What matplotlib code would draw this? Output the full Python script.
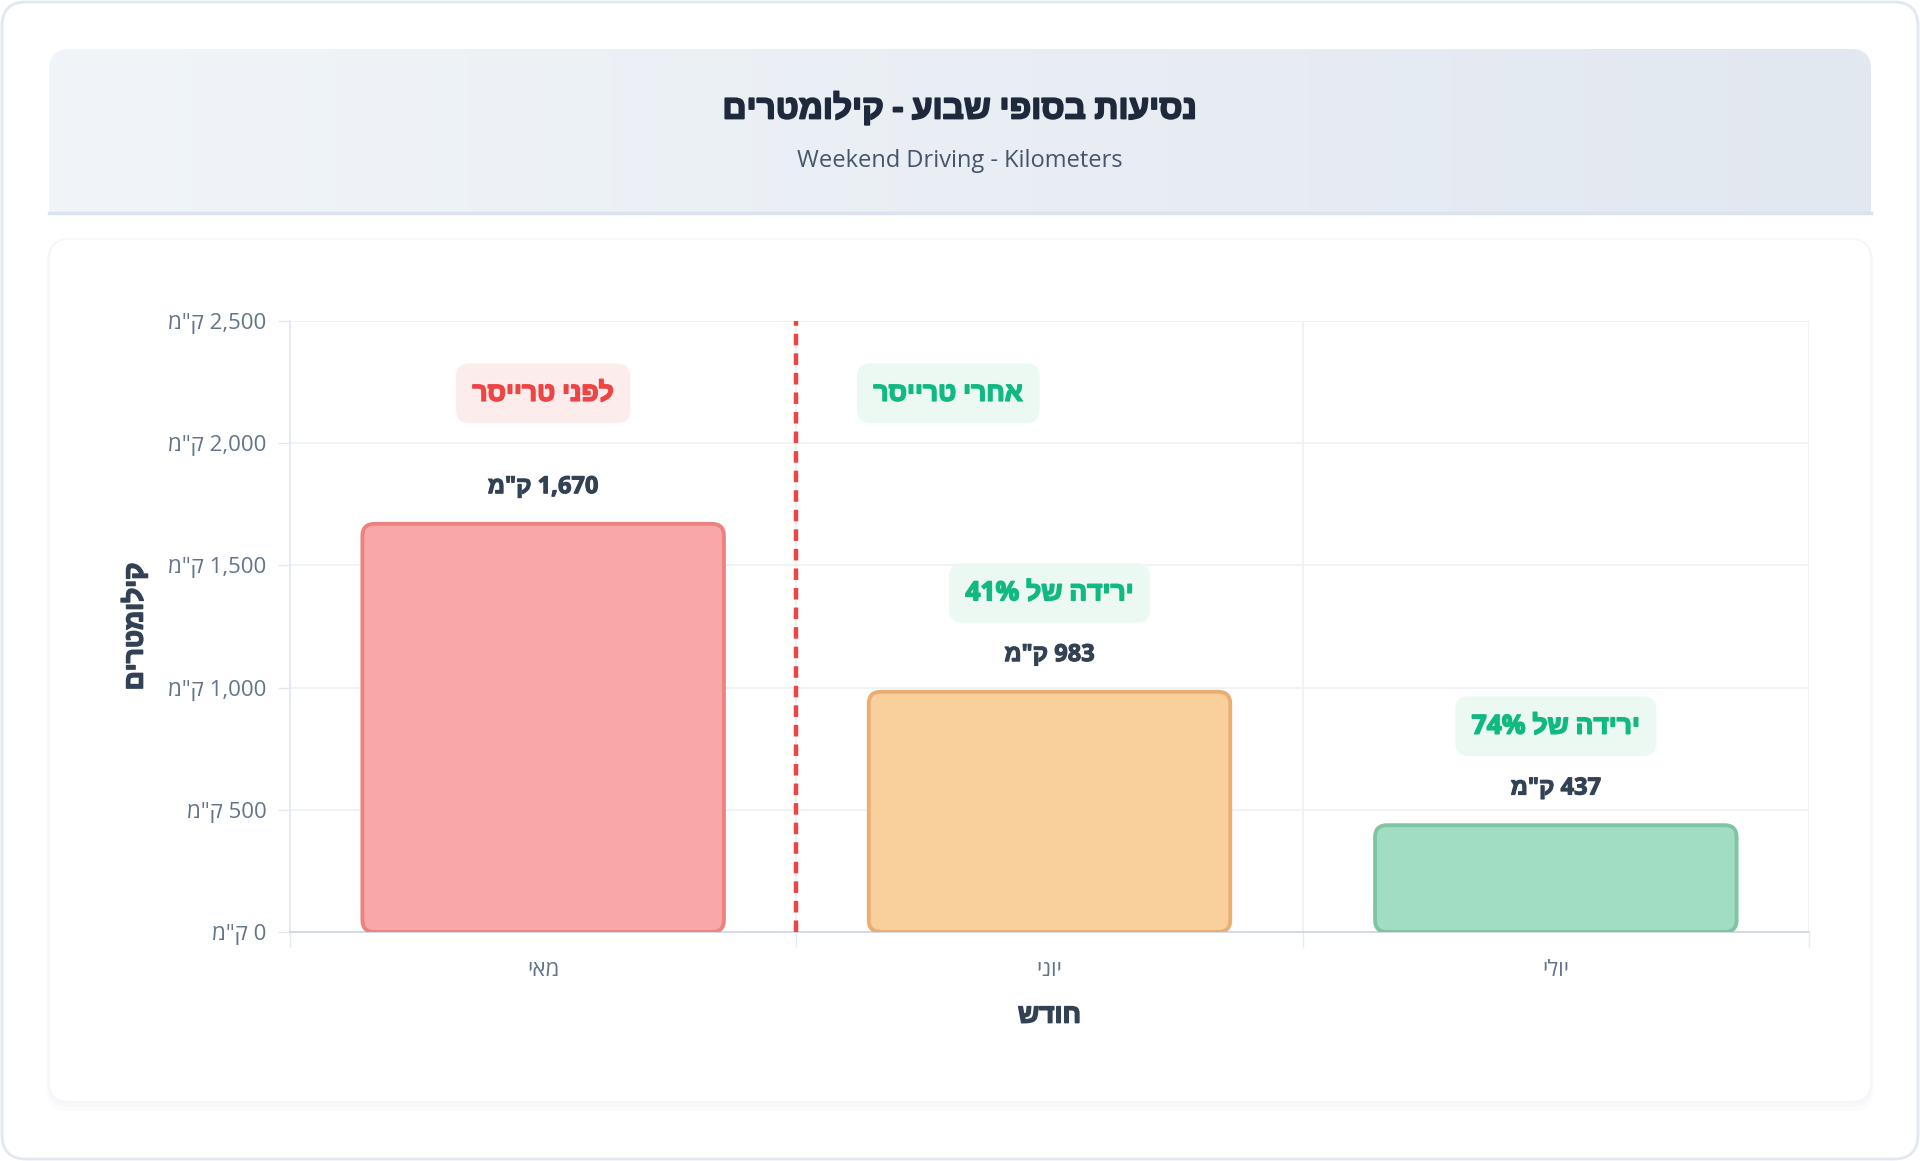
import re
import matplotlib
matplotlib.use("Agg")
from matplotlib import pyplot as plt
from matplotlib.patches import FancyBboxPatch
from matplotlib.colors import LinearSegmentedColormap
from matplotlib import patheffects as pe
import numpy as np

# data
months = ["מאי", "יוני", "יולי"]
km = [1670, 983, 437]
drops = [None, "41%", "74%"]
y_ticks = [0, 500, 1000, 1500, 2000, 2500]
unit = 'ק"מ'
phase_before = "לפני טרייסר"
phase_after = "אחרי טרייסר"

face_colors = ["#f8a9a7", "#f9cf9b", "#a1ddc3"]
edge_colors = ["#ec8382", "#ebae72", "#80c5a3"]

plt.rcParams['font.family'] = ['Open Sans', 'Liberation Sans', 'DejaVu Sans']


def rtl(s):
    # matplotlib lays text out left to right, so flip hebrew, keep number runs
    s = s[::-1]
    return re.sub(r"[\d.,%]+", lambda m: m.group(0)[::-1], s)


def heavy(color, w=1.1):
    # hebrew bold face is a bit light, thicken it with a same-colour stroke
    return [pe.withStroke(linewidth=w, foreground=color)]


W, H = 1920, 1161
fig = plt.figure(figsize=(W / 100, H / 100), dpi=100)
fig.patch.set_facecolor("white")

# background layer in pixel coords
bg = fig.add_axes([0, 0, 1, 1], zorder=-10)
bg.set_xlim(0, W)
bg.set_ylim(H, 0)
bg.axis("off")

bg.add_patch(FancyBboxPatch((2, 2), W - 4, H - 4, boxstyle="round,pad=0,rounding_size=24",
                            fc="white", ec="#e2e8f0", lw=2))

# plot card with a soft shadow
for off, a in [(6, 0.025), (3, 0.035)]:
    bg.add_patch(FancyBboxPatch((49 - off / 2, 239 + off / 2), 1822 + off, 863 + off,
                                boxstyle="round,pad=0,rounding_size=20",
                                fc="#94a3b8", ec="none", alpha=a))
bg.add_patch(FancyBboxPatch((49, 239), 1822, 863, boxstyle="round,pad=0,rounding_size=20",
                            fc="white", ec="#f1f5f9", lw=1))

# header card with gradient
clip = FancyBboxPatch((49, 49), 1822, 200, boxstyle="round,pad=0,rounding_size=20",
                      fc="none", ec="none")
bg.add_patch(clip)
cmap = LinearSegmentedColormap.from_list("hdr", ["#f1f5f9", "#e2e8f0"])
grad = np.linspace(0, 1, 256).reshape(1, -1)
im = bg.imshow(grad, cmap=cmap, extent=[49, 1871, 214, 49], aspect="auto", zorder=1)
im.set_clip_path(clip)
bg.plot([49, 1871], [212.5, 212.5], color="#dbe3ee", lw=2.5, zorder=2)
bg.set_xlim(0, W)
bg.set_ylim(H, 0)

fig.text(0.5, 1 - 110 / H, rtl("נסיעות בסופי שבוע - קילומטרים"), ha="center", va="center",
         fontsize=24, fontweight="bold", color="#1e293b", path_effects=heavy("#1e293b", 1.3))
fig.text(0.5, 1 - 161 / H, "Weekend Driving - Kilometers", ha="center", va="center",
         fontsize=17, color="#475569")

# main chart
ax = fig.add_axes([290 / W, 1 - 932 / H, (1809 - 290) / W, (932 - 321) / H])
x = np.arange(len(months))
ax.set_xlim(-0.5, len(months) - 0.5)
ax.set_ylim(0, 2500)

bars = ax.bar(x, km, width=0.714, alpha=0)
p0 = ax.transData.transform((0, 0))
p1 = ax.transData.transform((1, 1))
ux = 1 / (p1[0] - p0[0])
uy = 1 / (p1[1] - p0[1])
for rect, fc, ec in zip(bars, face_colors, edge_colors):
    fb = FancyBboxPatch((rect.get_x(), rect.get_y()), rect.get_width(), rect.get_height(),
                        boxstyle=f"round,pad=0,rounding_size={12 * ux}",
                        mutation_aspect=uy / ux, fc=fc, ec=ec, lw=2.8, zorder=3)
    ax.add_patch(fb)

badge = dict(boxstyle="round,pad=0.62,rounding_size=0.5", ec="none")

# value labels and drop badges
for xi, v, d in zip(x, km, drops):
    ax.text(xi, v + 150, rtl(f"{v:,} {unit}"), ha="center", va="center", fontsize=17,
            fontweight="bold", color="#334155", zorder=5, path_effects=heavy("#334155", 0.8),
            bbox=dict(boxstyle="square,pad=0.35", fc="white", ec="none"))
    if d:
        ax.text(xi, v + 405, rtl(f"ירידה של {d}"), ha="center", va="center", fontsize=19,
                fontweight="bold", color="#10b981", zorder=5, path_effects=heavy("#10b981"),
                bbox=dict(badge, fc="#ecf8f2"))

ax.text(0, 2204, rtl(phase_before), ha="center", va="center", fontsize=19, fontweight="bold",
        color="#ef4444", zorder=5, path_effects=heavy("#ef4444"), bbox=dict(badge, fc="#fdecec"))
ax.text(0.8, 2204, rtl(phase_after), ha="center", va="center", fontsize=19, fontweight="bold",
        color="#10b981", zorder=5, path_effects=heavy("#10b981"), bbox=dict(badge, fc="#ecf8f2"))

# before/after divider
ax.axvline(0.5, color="#ef4444", lw=3.2, dashes=(2.6, 1.8), zorder=4)

# axes styling
ax.set_yticks(y_ticks)
ax.set_yticklabels([rtl(f"{v:,} {unit}") for v in y_ticks])
ax.set_xticks(x)
ax.set_xticklabels([rtl(m) for m in months])
ax.set_xticks(np.arange(-0.5, len(months)), minor=True)
ax.tick_params(axis="y", length=9, width=1, color="#e2e8f0", pad=8, labelsize=16,
               labelcolor="#64748b")
ax.tick_params(axis="x", which="major", length=0, pad=20, labelsize=16, labelcolor="#64748b")
ax.tick_params(axis="x", which="minor", length=11, width=1, color="#e5e9f0")
ax.grid(axis="y", color="#eef1f5", lw=1.2)
ax.grid(axis="x", which="minor", color="#eef1f5", lw=1.2)
ax.set_axisbelow(True)
for s in ["top", "right"]:
    ax.spines[s].set_visible(False)
ax.spines["left"].set_color("#e2e8f0")
ax.spines["bottom"].set_color("#cbd5e1")
ax.spines["left"].set_linewidth(1.2)
ax.spines["bottom"].set_linewidth(1.2)

ax.set_xlabel(rtl("חודש"), fontsize=19, fontweight="bold", color="#334155", labelpad=15,
              path_effects=heavy("#334155"))
ax.set_ylabel(rtl("קילומטרים"), fontsize=19, fontweight="bold", color="#334155", labelpad=14,
              path_effects=heavy("#334155"))

fig.savefig("out.png", dpi=100, facecolor="white")
